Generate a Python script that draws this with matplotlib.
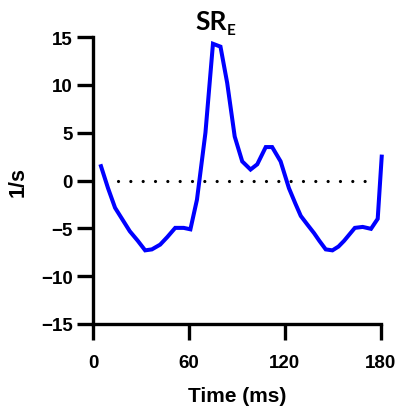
import numpy as np
import matplotlib
matplotlib.use('Agg')
import matplotlib.pyplot as plt

# Данные
time_ms = [5, 9.4, 13.8, 18.5, 23, 28, 32.6, 36.8, 42, 46.5, 51.4, 56.7, 60.9,
           65, 70.3, 75, 79.7, 83.9, 88.6, 93.3, 98.5, 102.7, 108, 112, 117.3,
           122.5, 126.5, 129.9, 134, 138.2, 141.5, 145.5, 149.7, 153.5, 157,
           163.7, 168.6, 173.8, 178, 180.5]
sr_e = [1.5, -0.8, -2.85, -4.1, -5.3, -6.3, -7.3, -7.2, -6.7, -5.9, -4.95, -4.95,
        -5.1, -2.0, 5.0, 14.3, 14.0, 10.2, 4.6, 2.0, 1.15, 1.7, 3.5, 3.5, 2.0,
        -0.8, -2.4, -3.7, -4.6, -5.5, -6.3, -7.2, -7.3, -6.9, -6.3,
        -4.95, -4.85, -5.05, -4.0, 2.5]
zero_line_x = [15.9, 172]
zero_line_y = [0, 0]

xticks = [0, 60, 120, 180]
yticks = [-15, -10, -5, 0, 5, 10, 15]

plt.rcParams['font.family'] = ['Liberation Sans', 'DejaVu Sans']

fig = plt.figure(figsize=(4.01, 4.14), dpi=100)
ax = fig.add_axes([0.2319, 0.215, 0.718, 0.693])

ax.plot(time_ms, sr_e, color='#0000ff', lw=2.9, solid_joinstyle='miter', clip_on=False, zorder=3)
ax.plot(zero_line_x, zero_line_y, color='black', lw=2.3,
        linestyle=(0, (0.01, 3.85)), dash_capstyle='round')

ax.set_xlim(0, 180)
ax.set_ylim(-15, 15)
ax.set_xticks(xticks)
ax.set_yticks(yticks)

for side in ['top', 'right']:
    ax.spines[side].set_visible(False)
for side in ['left', 'bottom']:
    ax.spines[side].set_linewidth(2.4)
    ax.spines[side].set_capstyle('projecting')

ax.tick_params(axis='both', width=2.4, length=11.5, labelsize=13.5)
ax.tick_params(axis='x', pad=10)
ax.tick_params(axis='y', pad=3)
for lbl in ax.get_xticklabels() + ax.get_yticklabels():
    lbl.set_fontweight('bold')

ax.set_xlabel('Time (ms)', fontsize=15, fontweight='bold', labelpad=11)
ax.set_ylabel('1/s', fontsize=15.5, fontweight='bold', labelpad=9)

# заголовок SR с подстрочным E
fig.text(195 / 401, 1 - 29.5 / 414, 'SR', fontsize=19, fontweight='bold',
         family='Lato', ha='left', va='baseline')
fig.text(227 / 401, 1 - 35 / 414, 'E', fontsize=11, fontweight='bold',
         family='Lato', ha='left', va='baseline')

fig.savefig('out.png', dpi=100)
